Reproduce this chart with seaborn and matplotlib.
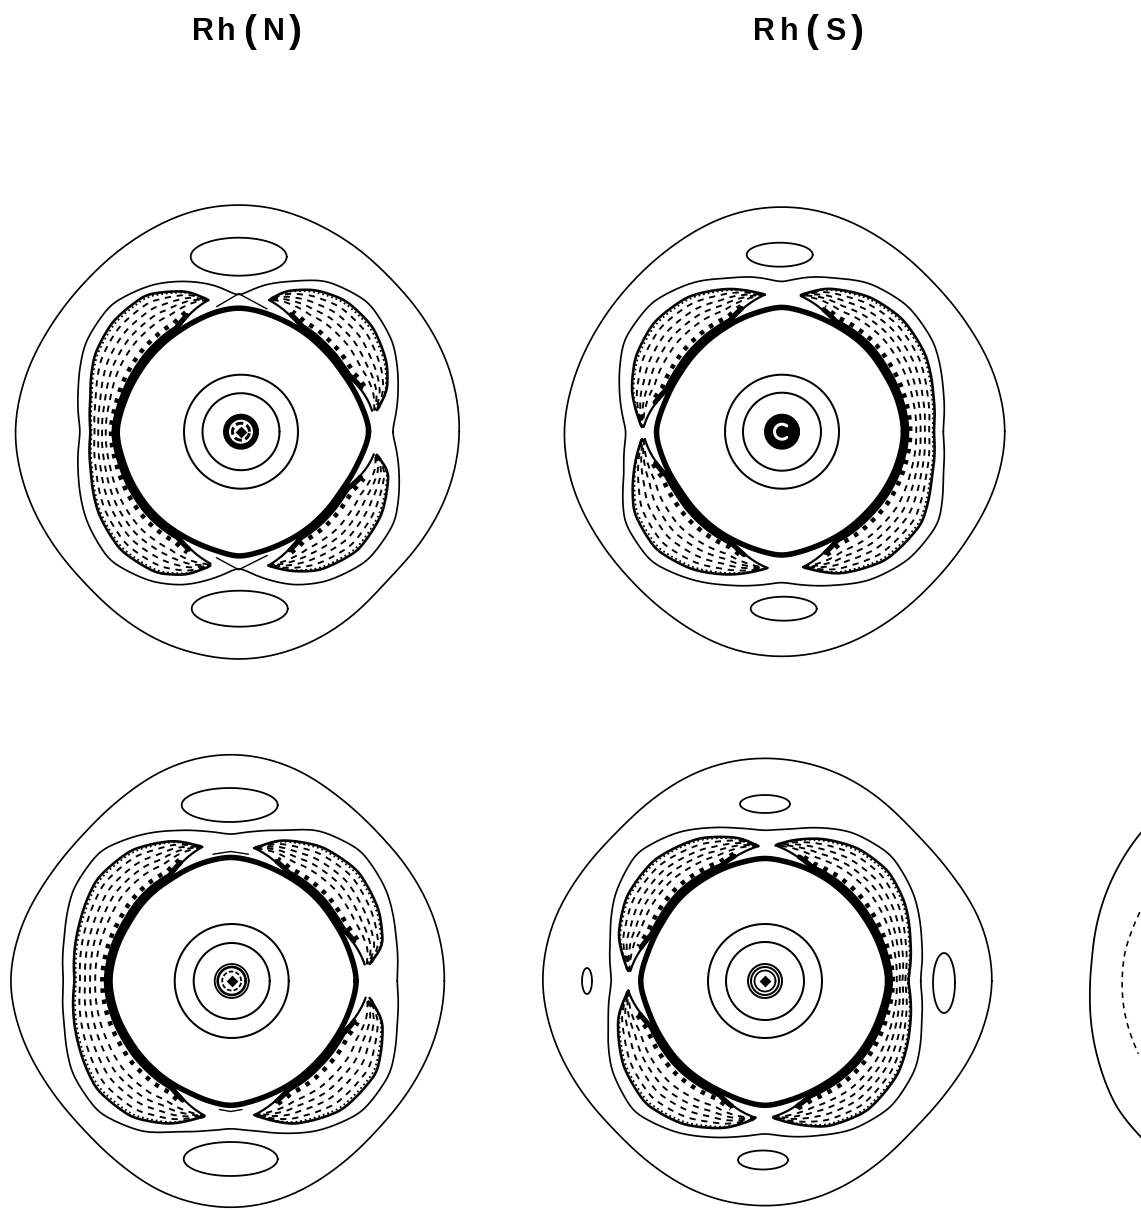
import numpy as np
import matplotlib
matplotlib.use("Agg")
import matplotlib.pyplot as plt
import seaborn as sns

sns.set_style("white")
plt.rcParams["font.family"] = ["Liberation Sans", "DejaVu Sans"]

# angles (deg) shared by the outer / envelope / ring radius profiles
angles = [0, 15, 30, 45, 60, 70, 80, 90, 100, 110, 120, 135, 150, 165, 180, 195,
          210, 225, 240, 250, 260, 270, 280, 290, 300, 315, 330, 345]

centres = [(238.7, 431.7), (781.7, 431.7), (230.7, 981.0), (765.0, 981.0)]
circle_dx = [2.3, 0.3, 1.0, 0.0]
circle_outer = [57, 57, 57, 57]
circle_inner = [38.5, 39, 38, 39]

p1_outer = [221, 220, 217, 215, 219, 222, 226, 227, 226, 222, 218, 214, 215, 220, 224, 221,
            217, 215, 220, 224, 226, 228, 226, 222, 217, 209, 213, 218]
p2_outer = [224, 220, 214, 212, 216, 220, 224, 225, 224, 220, 215, 211, 211, 214, 218, 216,
            212, 211, 215, 220, 224, 225, 224, 221, 217, 213, 214, 220]
p3_outer = [214, 213, 210, 208, 213, 220, 225, 227, 225, 220, 213, 207, 209, 216, 221, 216,
            210, 208, 214, 221, 225, 227, 225, 220, 214, 208, 209, 212]
p4_outer = [228, 224, 214, 210, 216, 220, 222, 223, 222, 219, 214, 209, 213, 220, 223, 219,
            214, 211, 216, 221, 224, 225, 224, 220, 215, 209, 213, 222]

p1_env = [153, 165, 178, 183, 174, 160, 149, 135, 149, 160, 170, 180, 177, 166, 158, 166,
          176, 182, 173, 163, 149, 135, 149, 163, 173, 182, 180, 166]
p2_env = [161, 167, 176, 178, 172, 163, 157, 149, 157, 163, 173, 183, 182, 168, 155, 163,
          181, 184, 172, 163, 156, 150, 156, 163, 172, 180, 181, 167]
p3_env = [166, 171, 180, 184, 174, 160, 152, 146, 152, 160, 170, 184, 182, 172, 167, 172,
          183, 186, 174, 160, 152, 147, 152, 162, 173, 185, 184, 172]
p4_env = [155, 162, 172, 178, 172, 163, 154, 150, 155, 163, 172, 181, 173, 160, 153, 162,
          177, 185, 175, 166, 158, 152, 158, 164, 172, 178, 174, 162]

p1_ring = [131, 124, 119, 118, 119, 120, 122, 124, 122, 119, 117, 116, 116, 118, 122, 119,
           118, 118, 118, 119, 121, 125, 122, 120, 119, 118, 118, 123]
p2_ring = [122, 120, 118, 119, 119, 120, 122, 125, 122, 120, 118, 117, 117, 120, 126, 121,
           117, 117, 118, 119, 121, 124, 121, 119, 118, 117, 118, 120]
p3_ring = [126, 122, 119, 119, 119, 120, 122, 124, 122, 120, 118, 118, 117, 119, 121, 119,
           117, 117, 118, 119, 122, 125, 122, 120, 119, 118, 119, 122]
p4_ring = [123, 120, 118, 118, 119, 120, 121, 123, 121, 120, 119, 119, 118, 120, 125, 120,
           118, 118, 118, 119, 122, 125, 122, 120, 119, 119, 119, 120]

# negative lobes: (angles, outer radii), tip to tip
p1_lobes = [
    ([8.9, 15.7, 24.7, 38, 51, 61.6, 71.6, 77], [140, 154, 163, 170, 169, 161, 148, 135]),
    ([103, 110, 124, 139, 152, 167, 180, 195, 210, 225, 240, 250, 258],
     [135, 149, 165, 167, 163, 152, 148, 153, 162, 167, 163, 152, 137]),
    ([282.5, 290, 300, 315, 330, 345, 350.4], [137, 148, 160, 168, 165, 155, 140]),
]
p2_lobes = [
    ([279, 292, 309, 327, 342.7, 360, 373.6, 388, 403, 416.5, 432.6, 442],
     [137, 153, 165, 167, 157, 152, 156, 163, 165, 161, 150, 138]),
    ([97, 110, 124.5, 139.5, 153, 165, 178], [138, 152, 164, 168, 164, 155, 140]),
    ([183, 195, 208.6, 223, 237, 250, 264], [140, 153, 168, 172, 164, 152, 137]),
]
p3_lobes = [
    ([7, 13.3, 25.4, 40.8, 56, 70.7, 79.6], [140, 156, 164, 168, 162, 149, 135]),
    ([280, 293.7, 310.6, 328, 345, 353], [136, 156, 170, 172, 157, 140]),
    ([102, 112, 127, 142.8, 158.5, 180, 202.8, 218.7, 234, 247, 258.6],
     [137, 151, 164, 168, 162, 156, 165, 172, 168, 155, 138]),
]
p4_lobes = [
    ([92.8, 100, 114.7, 132.6, 148.6, 163, 176], [135, 145, 157, 164, 162, 153, 137]),
    ([184, 193.7, 211, 226, 240, 255, 266.5], [137, 151, 165, 171, 165, 152, 137]),
    ([273.5, 293, 308, 325.3, 342.5, 360, 375.8, 389, 401.6, 414.9, 428.3, 439.3, 445.8],
     [137, 158, 165, 162, 152, 143, 151, 160, 165, 162, 153, 143, 136]),
]
dash_levels = [0.38, 0.53, 0.68, 0.83]
edge_level = 0.95
band_level = 0.05
tooth_level = 0.17

# ovals: dx, dy from panel centre, half width, half height
p1_ovals = [(0, 175, 48, 19), (1, -177, 48, 18)]
p2_ovals = [(-2, 177, 33, 12), (2, -177, 33, 12)]
p3_ovals = [(-1, 176, 48, 17), (0, -178, 47, 17)]
p4_ovals = [(0, 177, 25, 9), (-2, -179, 25, 9.5), (179, -2, 11, 30), (-178, 0, 5, 13)]

# little ties from the pinch to the ring, panel 1 only
tie_angles = [[90, 100], [90, 77], [270, 260], [270, 283]]
tie_radii = [[138, 127], [138, 126], [138, 128], [138, 127]]
# little caps above the ring, panel 3 only
cap_angles = [[82, 90, 98], [265, 270, 275]]
cap_radii = [[128, 129.5, 128], [129, 130.5, 129]]

# core: radius, width in px, dashed or not
p1_core = [(15.0, 6.0, False), (8.5, 3.0, True)]
p2_core = [(8.0, 20.0, False)]
p3_core = [(17.0, 1.8, False), (14.0, 2.6, False), (9.5, 1.8, True)]
p4_core = [(17.0, 2.0, False), (14.0, 2.0, False), (10.5, 1.8, False)]
core_diamond = [True, False, True, True]

# the panel cut off at the right edge
cut_centre = (1310, 990)
cut_outer_angles = [125, 137.1, 153.8, 172.2, 180.8, 198.3, 211.2, 221, 235]
cut_outer_radii = [232, 231, 226, 220, 220, 223, 226, 224, 222]
cut_dash_angles = [155.4, 163.6, 167.8, 177.9, 186, 193.4, 199.8]
cut_dash_radii = [187, 188, 189, 188, 187, 185, 183]

# column titles: text, centre x, size; parens are set bigger in the original
title_letters = [("R", 203, 22), ("h", 226, 22), ("(", 250, 28), ("N", 274, 22), (")", 295, 28),
                 ("R", 764, 22), ("h", 789, 22), ("(", 812, 28), ("S", 835, 22), (")", 857, 28)]

outers = [p1_outer, p2_outer, p3_outer, p4_outer]
envs = [p1_env, p2_env, p3_env, p4_env]
rings = [p1_ring, p2_ring, p3_ring, p4_ring]
lobes = [p1_lobes, p2_lobes, p3_lobes, p4_lobes]
ovals = [p1_ovals, p2_ovals, p3_ovals, p4_ovals]
cores = [p1_core, p2_core, p3_core, p4_core]

PX = 0.72  # points per pixel at dpi 100

fig, ax = plt.subplots(figsize=(11.41, 12.10), dpi=100)
ax.set_position([0, 0, 1, 1])
ax.set_xlim(0, 1141)
ax.set_ylim(1210, 0)
ax.axis("off")


def draw(x, y, lw=1.5, ls="-", color="k"):
    sns.lineplot(x=x, y=y, sort=False, estimator=None, errorbar=None, color=color,
                 linewidth=lw * PX, linestyle=ls, legend=False, ax=ax)


def polar(c, th, r):
    t = np.radians(th)
    return c[0] + r * np.cos(t), c[1] - r * np.sin(t)


def smooth_closed(r, n=5, passes=2):
    k = np.ones(n) / n
    for _ in range(passes):
        r = np.convolve(np.r_[r[-n:], r, r[:n]], k, mode="same")[n:-n]
    return r


def smooth_open(r, n=5, passes=2):
    k = np.ones(n) / n
    for _ in range(passes):
        r = np.convolve(np.pad(r, n, mode="edge"), k, mode="same")[n:-n]
    return r


full = np.arange(0, 360, 1.0)
loop = np.r_[full, 360.0]


def profile(vals, n):
    r = smooth_closed(np.interp(full, angles, vals, period=360), n)
    return np.r_[r, r[0]]


for i, c in enumerate(centres):
    draw(*polar(c, loop, profile(outers[i], 11)), lw=1.7)
    draw(*polar(c, loop, profile(envs[i], 5)), lw=1.7)

    ring_full = profile(rings[i], 7)
    for la, lr in lobes[i]:
        th = np.arange(la[0], la[-1] + 0.5, 1.0)
        out = smooth_open(np.interp(th, la, lr), 5, 1)
        out[0], out[-1] = lr[0], lr[-1]
        ring_here = np.interp(th, loop, ring_full, period=360)
        d = np.minimum(th - th[0], th[-1] - th)
        t = np.clip(d / 18.0, 0, 1)
        low = ring_here + 2 + (1 - t) * (np.minimum(lr[0], lr[-1]) - ring_here - 2)
        draw(*polar(c, th, out), lw=2.6)
        draw(*polar(c, th, low), lw=2.2)
        keep = t > 0.6
        draw(*polar(c, th[keep], (low + band_level * (out - low))[keep]), lw=5.0)
        draw(*polar(c, th[keep], (low + tooth_level * (out - low))[keep]), lw=4.5, ls=(0, (1.0, 1.5)))
        draw(*polar(c, th, low + edge_level * (out - low)), lw=1.8, ls=(0, (1.0, 1.6)))
        for j, lev in enumerate(dash_levels):
            draw(*polar(c, th, low + lev * (out - low)), lw=1.9, ls=(j * 1.7, (3.3, 3.0)))

    draw(*polar(c, loop, ring_full), lw=5.5)

    for dx, dy, a, b in ovals[i]:
        t = np.radians(loop)
        draw(c[0] + dx + a * np.cos(t), c[1] - dy - b * np.sin(t), lw=1.8)

    cc = (c[0] + circle_dx[i], c[1])
    for r in (circle_outer[i], circle_inner[i]):
        draw(*polar(cc, loop, np.full_like(loop, r)), lw=2.0)
    for r, w, dashed in cores[i]:
        draw(*polar(cc, loop, np.full_like(loop, r)), lw=w, ls=(0, (2.5, 1.2)) if dashed else "-")
    if core_diamond[i]:
        sns.scatterplot(x=[cc[0]], y=[cc[1]], marker="D", s=36, color="k", linewidth=0,
                        legend=False, ax=ax)

# white C in the blob of panel 2
c_th = np.arange(50, 311, 2.0)
draw(*polar((centres[1][0] + circle_dx[1], centres[1][1]), c_th, np.full_like(c_th, 7.5)),
     lw=3.0, color="w")

for ta, tr in zip(tie_angles, tie_radii):
    draw(*polar(centres[0], np.array(ta, float), np.array(tr, float)), lw=1.4)
for ta, tr in zip(cap_angles, cap_radii):
    draw(*polar(centres[2], np.array(ta, float), np.array(tr, float)), lw=1.4)

th = np.arange(cut_outer_angles[0], cut_outer_angles[-1] + 1, 1.0)
draw(*polar(cut_centre, th, smooth_open(np.interp(th, cut_outer_angles, cut_outer_radii))), lw=1.8)
th = np.arange(cut_dash_angles[0], cut_dash_angles[-1] + 1, 1.0)
draw(*polar(cut_centre, th, smooth_open(np.interp(th, cut_dash_angles, cut_dash_radii))),
     lw=1.6, ls=(0, (3.5, 3.0)))

for s, x, fs in title_letters:
    ax.text(x, 32, s, fontsize=fs, fontweight="bold", ha="center", va="center", color="k")

fig.savefig("out.png", dpi=100)
